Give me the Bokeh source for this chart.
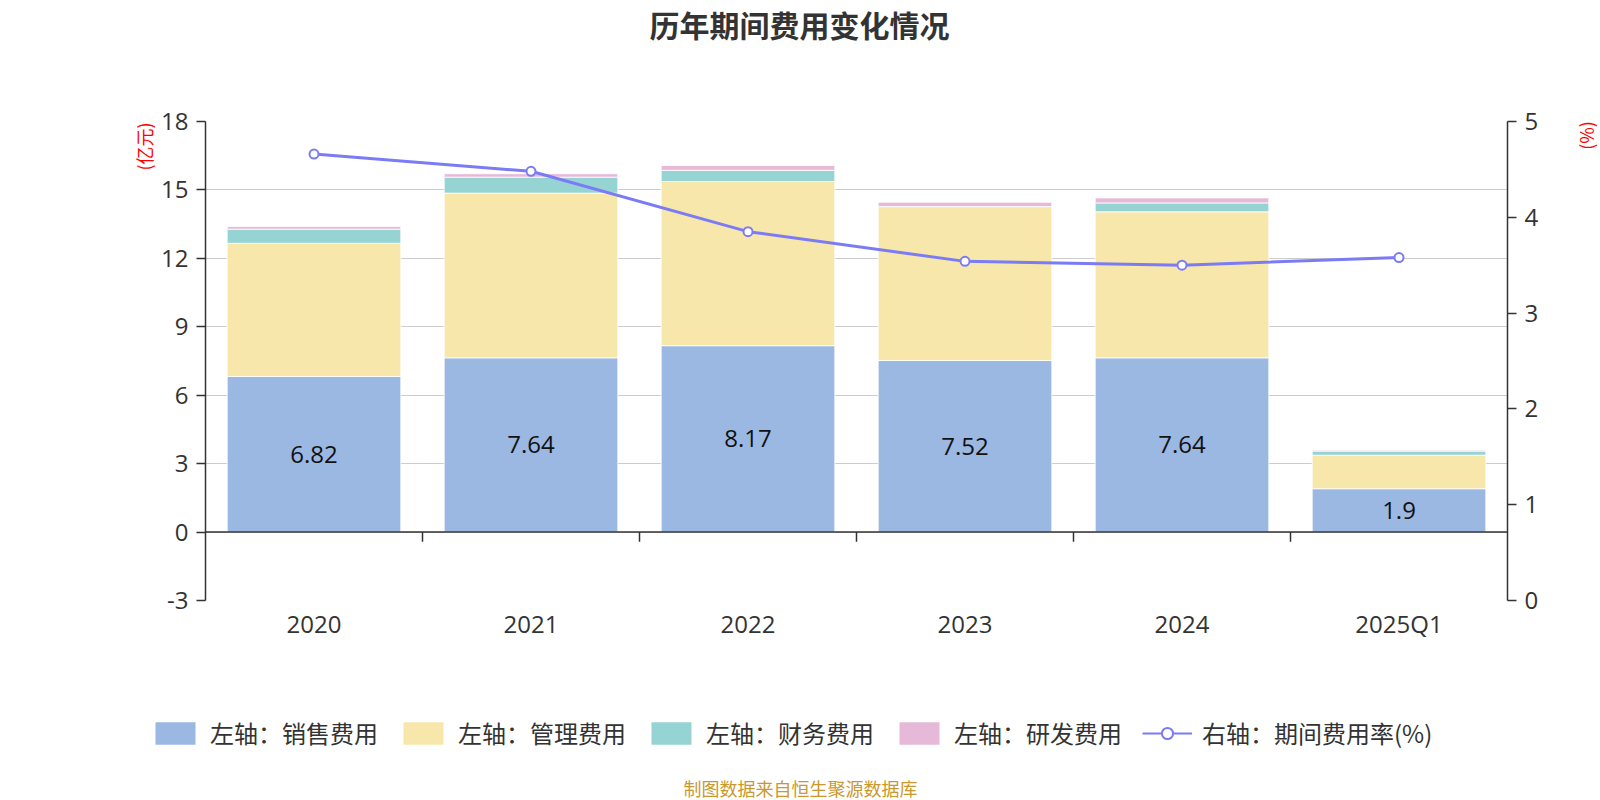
import math
from bokeh.plotting import figure
from bokeh.layouts import column, row
from bokeh.models import (Range1d, LinearAxis, FixedTicker, Span, Legend, Label,
                          LegendItem, ColumnDataSource, FactorRange)
from bokeh.core.properties import value
from bokeh.embed import file_html
from bokeh.resources import INLINE

# ---------------- data ----------------
years = ["2020", "2021", "2022", "2023", "2024", "2025Q1"]
sales = [6.82, 7.64, 8.17, 7.52, 7.64, 1.90]        # 销售费用 (亿元)
admin = [5.84, 7.22, 7.20, 6.75, 6.40, 1.47]        # 管理费用 (亿元)
finance = [0.62, 0.70, 0.49, 0.00, 0.39, 0.18]      # 财务费用 (亿元)
rnd = [0.12, 0.15, 0.21, 0.19, 0.22, 0.04]          # 研发费用 (亿元)
rate = [4.66, 4.48, 3.85, 3.54, 3.50, 3.58]         # 期间费用率 (%)
sales_labels = ["6.82", "7.64", "8.17", "7.52", "7.64", "1.9"]
left_ticks = [-3, 0, 3, 6, 9, 12, 15, 18]
right_ticks = [0, 1, 2, 3, 4, 5]
series_names = ["左轴：销售费用", "左轴：管理费用", "左轴：财务费用", "左轴：研发费用"]
line_name = "右轴：期间费用率(%)"
title_text = "历年期间费用变化情况"
footer_text = "制图数据来自恒生聚源数据库"
left_unit = "(亿元)"
right_unit = "(%)"

# ---------------- style ----------------
colors = ["#9bb8e2", "#f8e7aa", "#96d4d4", "#e6b9d8"]
line_color = "#7b7bf6"
text_color = "#333333"
cjk = "Noto Sans CJK SC"
num_font = "Open Sans"

TOTAL_W = 1600
T_H = 60          # title strip
M_H = 620         # chart strip
L_H = 120         # legend strip
LW, RW = 158, 40  # side strips
MW = TOTAL_W - LW - RW
FRAME_H = 479     # inner plot height (side strips share it)


def blank(width, height, yspan=None):
    f = figure(width=width, height=height, x_range=Range1d(0, width),
               y_range=Range1d(0, yspan if yspan else height),
               x_axis_type=None, y_axis_type=None, min_border=0, title=None,
               output_backend="svg", toolbar_location=None)
    f.outline_line_color = None
    f.background_fill_color = "white"
    f.border_fill_color = "white"
    return f


# ---------------- title strip ----------------
tf = blank(TOTAL_W, T_H)
tf.add_layout(Label(x=799, y=T_H - 23.5, text=title_text, text_align="center",
                    text_baseline="middle", text_font=cjk, text_font_size="30px",
                    text_font_style="bold", text_color=text_color))

# ---------------- side strips (unit labels) ----------------
lf = blank(LW, M_H, FRAME_H)
lf.add_layout(Label(x=143, y=FRAME_H - 25, text=left_unit, angle=math.pi / 2,
                    text_align="center", text_baseline="middle", text_font=cjk,
                    text_font_size="18px", text_color="red"))
rf = blank(RW, M_H, FRAME_H)
rf.add_layout(Label(x=25, y=FRAME_H - 14, text=right_unit, angle=math.pi / 2,
                    text_align="center", text_baseline="middle", text_font=cjk,
                    text_font_size="18px", text_color="red"))

# ---------------- main chart ----------------
p = figure(width=MW, height=M_H, x_range=FactorRange(*years), y_range=Range1d(-3, 18),
           output_backend="svg", toolbar_location=None, title=None,
           min_border_left=45, min_border_right=53, min_border_top=61, min_border_bottom=80)
p.outline_line_color = None
p.background_fill_color = "white"
p.border_fill_color = "white"
p.extra_y_ranges = {"right": Range1d(0, 5)}

source = ColumnDataSource(dict(year=years, sales=sales, admin=admin, finance=finance, rnd=rnd,
                               rate=rate, mid=[v / 2 for v in sales], lab=sales_labels))

bars = p.vbar_stack(["sales", "admin", "finance", "rnd"], x="year", width=0.8, source=source,
                    color=colors, line_color="white", line_width=0.8)

# zero line with category boundary ticks
p.add_layout(Span(location=0, dimension="width", line_color=text_color, line_width=1.5))
bounds = list(range(1, len(years)))
p.segment(x0=bounds, y0=[0] * len(bounds), x1=bounds, y1=[-0.42] * len(bounds),
          line_color=text_color, line_width=1.5)

# bar labels
p.text(x="year", y="mid", text="lab", source=source, text_align="center",
       text_baseline="middle", text_font_size="24px", text_color="#111111",
       text_font=value(num_font))

# line on right axis
p.line(x="year", y="rate", source=source, y_range_name="right",
       line_color=line_color, line_width=3)
p.scatter(x="year", y="rate", source=source, y_range_name="right", size=9,
          fill_color="white", line_color=line_color, line_width=2)

# axes
p.xaxis.axis_line_color = None
p.xaxis.major_tick_line_color = None
p.xaxis.minor_tick_line_color = None
p.xaxis.major_label_text_font_size = "24px"
p.xaxis.major_label_text_color = text_color
p.xaxis.major_label_text_font = num_font
p.xaxis.major_label_standoff = 0

p.yaxis.ticker = FixedTicker(ticks=left_ticks)
p.yaxis.major_label_overrides = {-3: "-3"}
p.yaxis.axis_line_color = text_color
p.yaxis.axis_line_width = 1.5
p.yaxis.major_tick_line_color = text_color
p.yaxis.major_tick_line_width = 1.5
p.yaxis.major_tick_out = 9
p.yaxis.major_tick_in = 0
p.yaxis.minor_tick_line_color = None
p.yaxis.major_label_text_font_size = "24px"
p.yaxis.major_label_text_color = text_color
p.yaxis.major_label_text_font = num_font
p.yaxis.major_label_standoff = 8

raxis = LinearAxis(y_range_name="right", ticker=FixedTicker(ticks=right_ticks))
raxis.axis_line_color = text_color
raxis.axis_line_width = 1.5
raxis.major_tick_line_color = text_color
raxis.major_tick_line_width = 1.5
raxis.major_tick_out = 9
raxis.major_tick_in = 0
raxis.minor_tick_line_color = None
raxis.major_label_text_font_size = "24px"
raxis.major_label_text_color = text_color
raxis.major_label_text_font = num_font
raxis.major_label_standoff = 8
p.add_layout(raxis, "right")

p.xgrid.grid_line_color = None
p.ygrid.ticker = FixedTicker(ticks=left_ticks)
p.ygrid.grid_line_color = "#cccccc"
p.ygrid.grid_line_width = 1.2

# ---------------- legend + footer strip ----------------
bf = blank(TOTAL_W, L_H)
nan = float("nan")
key_src = ColumnDataSource(dict(x=[nan], y=[nan]))
key_renderers = [bf.vbar(x="x", top="y", width=1, source=key_src, fill_color=c,
                         line_color=None) for c in colors]
kl = bf.line(x="x", y="y", source=key_src, line_color=line_color, line_width=2)
ks = bf.scatter(x="x", y="y", source=key_src, size=9, fill_color="white",
                line_color=line_color, line_width=2)
items = [LegendItem(label=n, renderers=[r]) for n, r in zip(series_names, key_renderers)]
items.append(LegendItem(label=line_name, renderers=[kl, ks]))
legend = Legend(items=items, orientation="horizontal", location=(150, 50),
                glyph_width=50, glyph_height=28, label_standoff=10, spacing=20,
                label_text_font=cjk, label_text_font_size="24px", label_text_color=text_color,
                label_height=28, padding=0, margin=0, border_line_color=None,
                background_fill_alpha=0)
bf.add_layout(legend, "center")
bf.add_layout(Label(x=800, y=13, text=footer_text, text_align="center",
                    text_baseline="middle", text_font=cjk, text_font_size="18px",
                    text_color="#c9982f"))

layout = column(tf, row(lf, p, rf, spacing=0), bf, spacing=0)
open("out.html", "w").write(file_html(layout, INLINE))
